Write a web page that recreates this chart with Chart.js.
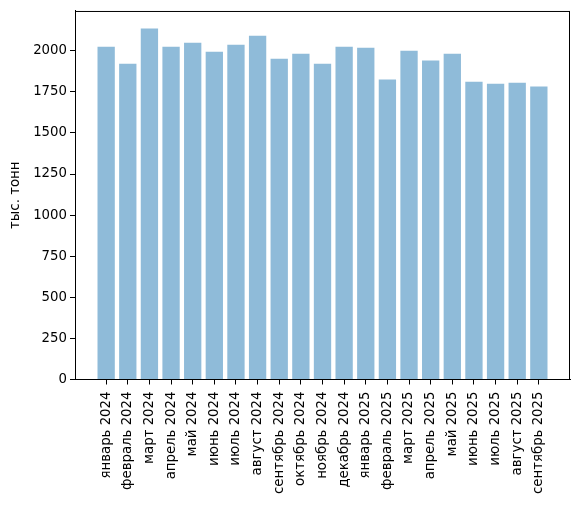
<!DOCTYPE html>
<html>
<head>
<meta charset="utf-8">
<script src="https://cdn.jsdelivr.net/npm/chart.js@4/dist/chart.umd.min.js"></script>
<style>
  html, body { margin:0; padding:0; background:#fff; }
  #wrap { width:580px; height:506px; position:relative; }
</style>
</head>
<body>
<div id="wrap"><canvas id="c"></canvas></div>
<script>
// === Данные ===
const months = ['январь 2024','февраль 2024','март 2024','апрель 2024','май 2024','июнь 2024',
  'июль 2024','август 2024','сентябрь 2024','октябрь 2024','ноябрь 2024','декабрь 2024',
  'январь 2025','февраль 2025','март 2025','апрель 2025','май 2025','июнь 2025',
  'июль 2025','август 2025','сентябрь 2025'];
const volumes = [2024, 1921, 2135, 2024, 2048, 1994, 2036, 2091, 1952, 1982, 1921, 2024,
  2018, 1825, 2000, 1940, 1982, 1812, 1800, 1806, 1782];
const yTicks = [0, 250, 500, 750, 1000, 1250, 1500, 1750, 2000];
const yLabel = 'тыс. тонн';

// рамка сверху и справа, как у matplotlib
const frame = {
  id: 'frame',
  afterDraw(chart){
    const {ctx, chartArea:a} = chart;
    ctx.save();
    ctx.strokeStyle = '#000'; ctx.lineWidth = 1;
    ctx.beginPath();
    ctx.moveTo(a.left, a.top + 0.5); ctx.lineTo(a.right, a.top + 0.5);
    ctx.moveTo(a.right - 0.5, a.top); ctx.lineTo(a.right - 0.5, a.bottom);
    ctx.stroke();
    ctx.restore();
  }
};

const font = { family: 'DejaVu Sans', size: 13.3 };
Chart.defaults.color = '#000';

new Chart(document.getElementById('c'), {
  type: 'bar',
  data: { datasets: [{
    data: volumes.map((v, i) => ({ x: i, y: v })),
    backgroundColor: 'rgba(31,119,180,0.5)',
    borderWidth: 0,
    categoryPercentage: 1, barPercentage: 0.8
  }]},
  options: {
    responsive: true, maintainAspectRatio: false, animation: false,
    layout: { padding: { top: 10, right: 10, left: 8, bottom: 0 } },
    plugins: { legend: { display: false }, tooltip: { enabled: false } },
    scales: {
      x: {
        type: 'linear', min: -1.44, max: 21.44, offset: false,
        afterBuildTicks: s => { s.ticks = months.map((m, i) => ({ value: i })); },
        afterFit: s => { s.height = 126.5; },
        grid: { display: true, drawOnChartArea: false, drawTicks: true, tickLength: 5, color: '#000', offset: false },
        border: { display: true, color: '#000' },
        ticks: { font, padding: 7, minRotation: 90, maxRotation: 90, autoSkip: false,
          callback: v => months[v] }
      },
      y: {
        min: 0, max: 2242,
        afterBuildTicks: s => { s.ticks = yTicks.map(v => ({ value: v })); },
        afterFit: s => { s.width = 67; },
        grid: { display: true, drawOnChartArea: false, drawTicks: true, tickLength: 5, color: '#000' },
        border: { display: true, color: '#000' },
        ticks: { font, padding: 3, callback: v => String(v) },
        title: { display: true, text: yLabel, font, padding: { top: 0, bottom: 4 } }
      }
    }
  },
  plugins: [frame]
});
</script>
</body>
</html>
